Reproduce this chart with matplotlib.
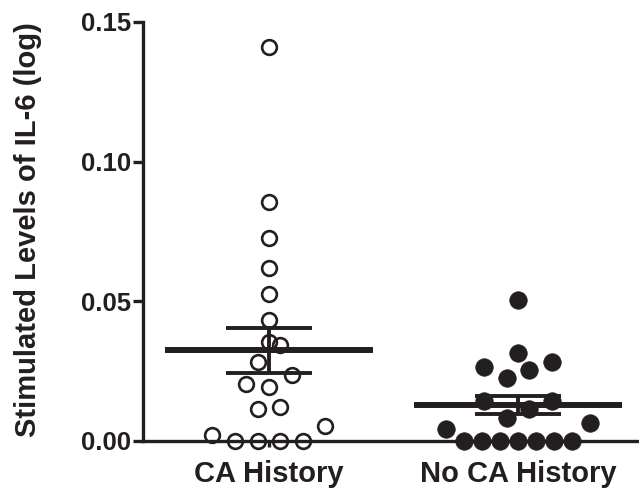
import numpy as np
import matplotlib
matplotlib.use("Agg")
import matplotlib.pyplot as plt

plt.rcParams['font.family'] = ['Liberation Sans', 'DejaVu Sans']
plt.rcParams['font.weight'] = 'bold'

# Datos
grupos = ['CA History', 'No CA History']
ca_history = [0.141, 0.0857, 0.0726, 0.0618, 0.0525, 0.0433, 0.0356, 0.0344,
              0.0284, 0.0236, 0.0203, 0.0192, 0.0123, 0.0113, 0.0054, 0.0021,
              0.0, 0.0, 0.0, 0.0]
no_ca_history = [0.0505, 0.0316, 0.0284, 0.0264, 0.0254, 0.0224, 0.0144, 0.0144,
                 0.0113, 0.0083, 0.0063, 0.0043,
                 0.0, 0.0, 0.0, 0.0, 0.0, 0.0, 0.0]
y_ticks = [0.00, 0.05, 0.10, 0.15]

ink = '#231f20'


def swarm(vals, row_h=0.0065, step=0.0908, max_w=0.58):
    # filas tipo Prism: puntos cercanos en y se reparten en horizontal
    vals = np.asarray(vals)
    order = np.argsort(vals, kind='stable')
    offs = np.zeros(len(vals))
    i = 0
    while i < len(order):
        start = vals[order[i]]
        j = i
        while j < len(order) and vals[order[j]] < start + row_h:
            j += 1
        row = order[i:j]
        n = len(row)
        sp = step if n < 2 else min(step, max_w / (n - 1))
        slots = (np.arange(n) - (n - 1) / 2) * sp
        slot_order = sorted(range(n), key=lambda k: (round(abs(slots[k]), 6), slots[k]))
        for idx, k in zip(row, slot_order):
            offs[idx] = slots[k]
        i = j
    return offs


fig = plt.figure(figsize=(6.39, 4.93), dpi=100)
ax = fig.add_axes([0.2238, 0.1055, 0.773, 0.85])

series = [ca_history, no_ca_history]
for pos, vals in enumerate(series, start=1):
    vals = np.asarray(vals)
    x = pos + swarm(vals)
    if pos == 1:
        ax.plot(x, vals, 'o', ms=10.6, mew=1.9, mfc='none', mec=ink,
                clip_on=False, zorder=3)
    else:
        ax.plot(x, vals, 'o', ms=12.6, mew=0.5, mfc=ink, mec=ink,
                clip_on=False, zorder=3)
    m = vals.mean()
    sem = vals.std(ddof=1) / np.sqrt(len(vals))
    ax.hlines(m, pos - 0.418, pos + 0.418, color=ink, lw=4.3, zorder=4)
    ax.hlines([m - sem, m + sem], pos - 0.173, pos + 0.173, color=ink, lw=2.8, zorder=4)
    ax.vlines(pos, m - sem, m + sem, color=ink, lw=2.8, zorder=4)

ax.set_xlim(0.494, 2.478)
ax.set_ylim(0, 0.15)
ax.set_xticks([1, 2])
ax.set_xticklabels(grupos, fontsize=21, fontweight='bold', color=ink)
ax.set_yticks(y_ticks)
ax.set_yticklabels([f'{t:.2f}' for t in y_ticks], fontsize=18.5, fontweight='bold', color=ink)
ax.tick_params(axis='y', direction='out', length=7, width=2.4, color=ink, pad=1.5)
ax.tick_params(axis='x', direction='out', length=4, width=2.4, color=ink, pad=10)

for s in ['top', 'right']:
    ax.spines[s].set_visible(False)
for s in ['left', 'bottom']:
    ax.spines[s].set_linewidth(2.4)
    ax.spines[s].set_color(ink)

ax.set_ylabel('Stimulated Levels of IL-6 (log)', fontsize=21, fontweight='bold', color=ink)
ax.yaxis.set_label_coords(-0.205, 0.505)

fig.savefig('out.png', dpi=100)
